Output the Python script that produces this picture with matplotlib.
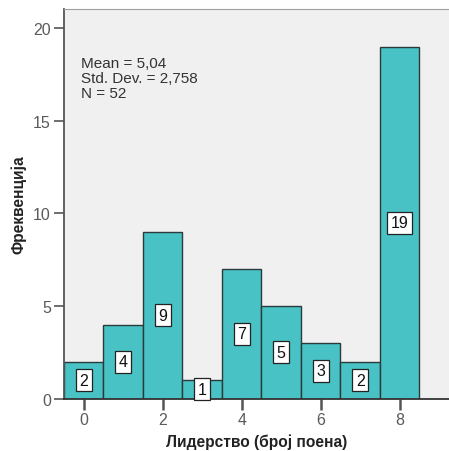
import matplotlib.pyplot as plt

plt.rcParams['font.family'] = ['Liberation Sans', 'DejaVu Sans']

# Лидерство (број поена) - фреквенције
poeni = [0, 1, 2, 3, 4, 5, 6, 7, 8]
frekvencija = [2, 4, 9, 1, 7, 5, 3, 2, 19]
x_ticks = [0, 2, 4, 6, 8]
y_ticks = [0, 5, 10, 15, 20]
statistika = "Mean = 5,04\nStd. Dev. = 2,758\nN = 52"

fig = plt.figure(figsize=(4.49, 4.52), dpi=100)
ax = fig.add_axes([0.1425, 0.116, 0.8575, 0.862])
ax.set_facecolor('#F0F0F0')

ax.bar(poeni, frekvencija, width=1.0, color='#48C2C5', edgecolor='#2B3A3A', linewidth=1.0, zorder=2)

# ознаке вредности у средини сваког стубића
for x, f in zip(poeni, frekvencija):
    ax.text(x, f / 2, str(f), ha='center', va='center', fontsize=11.5, color='#111111', zorder=4,
            bbox=dict(boxstyle='square,pad=0.22', facecolor='white', edgecolor='#222222', linewidth=0.9))

ax.text(0.045, 0.878, statistika, transform=ax.transAxes, ha='left', va='top',
        fontsize=11, color='#333333', linespacing=1.05)

ax.set_xlim(-0.5, 9.25)
ax.set_ylim(0, 21.05)
ax.set_xticks(x_ticks)
ax.set_yticks(y_ticks)

ax.spines['right'].set_visible(False)
ax.spines['top'].set_color('#A0A0A0')
ax.spines['left'].set_color('#555555')
ax.spines['bottom'].set_color('#333333')
ax.spines['bottom'].set_linewidth(1.3)
ax.spines['left'].set_linewidth(1.3)

ax.tick_params(axis='y', direction='out', length=7, width=1.2, color='#555555', labelcolor='#5A5A5A',
               labelsize=11.5, pad=2.5)
ax.tick_params(axis='x', direction='out', length=8, width=1.8, color='#555555', labelcolor='#5A5A5A',
               labelsize=11.5, pad=2)

ax.set_xlabel('Лидерство (број поена)', fontsize=11.2, fontweight='bold', color='#222222', labelpad=4)
ax.set_ylabel('Фреквенција', fontsize=11.2, fontweight='bold', color='#222222', labelpad=5)

fig.savefig('out.png', dpi=100)
